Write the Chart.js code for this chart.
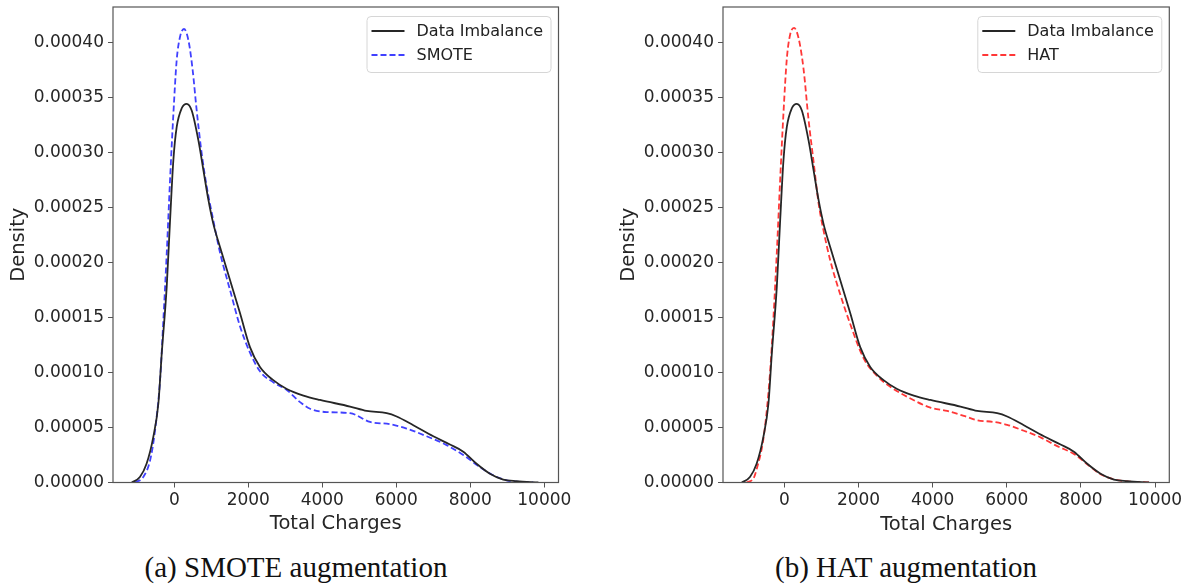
<!DOCTYPE html>
<html lang="en">
<head>
    <meta charset="UTF-8">
    <title>Total Charges density: SMOTE vs HAT augmentation</title>
    <script src="https://cdn.jsdelivr.net/npm/chart.js"></script>
    <style>
        html, body {
            margin: 0;
            padding: 0;
            background: #fff;
            overflow: hidden;
        }
        .wrap {
            position: relative;
            width: 1192px;
            height: 588px;
        }
        canvas {
            position: absolute;
            top: 0;
        }
        .caption {
            position: absolute;
            top: 550px;
            width: 600px;
            text-align: center;
            font-family: "Liberation Serif", "DejaVu Serif", serif;
            font-size: 29px;
            line-height: 34px;
            color: #111;
        }
    </style>
</head>
<body>
<div class="wrap">
    <canvas id="smoteChart" width="585" height="536" style="left:0px"></canvas>
    <canvas id="hatChart" width="582" height="537" style="left:610px"></canvas>
    <div class="caption" style="left:-4px">(a) SMOTE augmentation</div>
    <div class="caption" style="left:606px">(b) HAT augmentation</div>
</div>

<script>
    // tick labels
    const xTicks = [0, 2000, 4000, 6000, 8000, 10000];
    const yTicks = [0, 0.00005, 0.00010, 0.00015, 0.00020, 0.00025, 0.00030, 0.00035, 0.00040];

    // original (imbalanced) data density
    const imbalanceX = [-1150, -930, -750, -570, -430, -340, -205, -115, -25, 65, 200, 335, 470, 650, 785, 920, 1055, 1235,
        1505, 1775, 2045, 2315, 2675, 3040, 3490, 3940, 4750, 5200, 5740, 6010, 6460, 7000, 7450, 7810, 8170, 8530, 8890, 9250, 9840];
    const imbalanceY = [0, 0.000005, 0.000017, 0.000041, 0.000072, 0.000117, 0.000178, 0.000238, 0.000293, 0.000323, 0.000340,
        0.000344, 0.000338, 0.000311, 0.000284, 0.000257, 0.000235, 0.000214, 0.000184, 0.000154, 0.000123, 0.000105, 0.000093,
        0.000085, 0.000079, 0.000075, 0.000069, 0.000065, 0.000063, 0.000060, 0.000052, 0.000042, 0.0000345, 0.000028, 0.000017,
        0.000008, 0.0000027, 0.0000012, 0];

    // SMOTE augmented density
    const smoteX = [-1060, -840, -655, -520, -385, -295, -205, -115, -25, 65, 155, 260, 380, 495, 605, 740, 875, 1055, 1235,
        1505, 1775, 2045, 2315, 2675, 3040, 3400, 3670, 4120, 4750, 5290, 5830, 6280, 6820, 7360, 7810, 8260, 8620, 8980, 9700];
    const smoteY = [0, 0.000005, 0.000020, 0.0000475, 0.000093, 0.000148, 0.000208, 0.000275, 0.000335, 0.000384, 0.000405,
        0.000412, 0.000402, 0.000375, 0.000338, 0.000299, 0.000269, 0.000238, 0.000209, 0.000175, 0.000142, 0.000118, 0.000101,
        0.000091, 0.000084, 0.000073, 0.000067, 0.000064, 0.000063, 0.000055, 0.000053, 0.000049, 0.000042, 0.000034, 0.000025,
        0.000014, 0.0000066, 0.000002, 0];

    // HAT augmented density
    const hatX = [-1020, -830, -750, -570, -430, -340, -205, -115, -25, 65, 155, 260, 380, 515, 650, 785, 920, 1055, 1235,
        1505, 1775, 2135, 2495, 2855, 3305, 3940, 4390, 4840, 5200, 5650, 6010, 6460, 6910, 7360, 7810, 8170, 8530, 8890, 9250, 9880];
    const hatY = [0, 0.000004, 0.000012, 0.000039, 0.000082, 0.000124, 0.000209, 0.000275, 0.000336, 0.000385, 0.000407,
        0.000413, 0.000404, 0.000376, 0.000330, 0.000292, 0.000254, 0.000229, 0.000202, 0.000171, 0.000144, 0.000113, 0.000097,
        0.000087, 0.000078, 0.000068, 0.000065, 0.0000605, 0.0000566, 0.000055, 0.0000524, 0.000047, 0.000041, 0.000033, 0.000026,
        0.0000166, 0.0000075, 0.000003, 0.000001, 0];

    const toPoints = (xs, ys) => xs.map((x, i) => ({ x: x, y: ys[i] }));

    const tickFont = { family: "'DejaVu Sans', sans-serif", size: 17 };
    const titleFont = { family: "'DejaVu Sans', sans-serif", size: 19.5 };
    const spineColor = '#555';

    // full matplotlib-like box around the plot area
    const frame = {
        id: 'frame',
        afterDatasetsDraw(chart) {
            const a = chart.chartArea;
            const ctx = chart.ctx;
            ctx.save();
            ctx.strokeStyle = spineColor;
            ctx.lineWidth = 1.2;
            ctx.strokeRect(a.left, a.top, a.right - a.left, a.bottom - a.top);
            ctx.restore();
        }
    };

    // legend inside the plot, top right
    const innerLegend = {
        id: 'innerLegend',
        afterDraw(chart) {
            const a = chart.chartArea;
            const ctx = chart.ctx;
            const w = 184, h = 56;
            const left = a.right - 8 - w, top = a.top + 9;
            ctx.save();
            ctx.fillStyle = 'rgba(255,255,255,0.85)';
            ctx.strokeStyle = '#d6d6d6';
            ctx.lineWidth = 1;
            ctx.beginPath();
            ctx.roundRect(left + 0.5, top + 0.5, w, h, 4);
            ctx.fill();
            ctx.stroke();
            chart.data.datasets.forEach((ds, i) => {
                const y = top + 15 + i * 24;
                ctx.strokeStyle = ds.borderColor;
                ctx.lineWidth = ds.borderWidth;
                ctx.setLineDash(ds.borderDash || []);
                ctx.beginPath();
                ctx.moveTo(left + 5, y);
                ctx.lineTo(left + 38, y);
                ctx.stroke();
                ctx.setLineDash([]);
                ctx.fillStyle = '#222';
                ctx.font = "16px 'DejaVu Sans', sans-serif";
                ctx.textBaseline = 'middle';
                ctx.fillText(ds.label, left + 50, y + 1);
            });
            ctx.restore();
        }
    };

    function makeChart(canvasId, augLabel, augColor, augX, augY, rightPad) {
        const ctx = document.getElementById(canvasId).getContext('2d');
        return new Chart(ctx, {
            type: 'line',
            data: {
                datasets: [{
                    label: 'Data Imbalance',
                    data: toPoints(imbalanceX, imbalanceY),
                    borderColor: '#262626',
                    borderWidth: 1.8,
                    pointRadius: 0,
                    cubicInterpolationMode: 'monotone',
                    fill: false
                }, {
                    label: augLabel,
                    data: toPoints(augX, augY),
                    borderColor: augColor,
                    borderWidth: 1.8,
                    borderDash: [6, 3],
                    pointRadius: 0,
                    cubicInterpolationMode: 'monotone',
                    fill: false
                }]
            },
            options: {
                responsive: false,
                animation: false,
                devicePixelRatio: 1,
                layout: { padding: { top: 7, right: rightPad, left: 0, bottom: 0 } },
                plugins: { legend: { display: false }, tooltip: { enabled: false } },
                scales: {
                    x: {
                        type: 'linear',
                        min: -1657,
                        max: 10384,
                        afterBuildTicks: (scale) => { scale.ticks = xTicks.map(v => ({ value: v })); },
                        afterFit: (scale) => { scale.height = canvasHeight(scale) - 482.5; scale.paddingLeft = 0; scale.paddingRight = 0; },
                        ticks: { font: tickFont, color: '#262626', padding: 3, maxRotation: 0, callback: (v) => String(v) },
                        grid: { display: true, drawOnChartArea: false, drawTicks: true, tickLength: 5, color: spineColor },
                        border: { display: false },
                        title: { display: true, text: 'Total Charges', font: titleFont, color: '#262626', padding: { top: 0, bottom: 0 } }
                    },
                    y: {
                        type: 'linear',
                        min: 0,
                        max: 0.000432,
                        afterBuildTicks: (scale) => { scale.ticks = yTicks.map(v => ({ value: v })); },
                        afterFit: (scale) => { scale.width = 113; scale.paddingTop = 0; scale.paddingBottom = 0; },
                        ticks: { font: tickFont, color: '#262626', padding: 4, callback: (v) => v.toFixed(5) },
                        grid: { display: true, drawOnChartArea: false, drawTicks: true, tickLength: 5, color: spineColor },
                        border: { display: false },
                        title: { display: true, text: 'Density', font: titleFont, color: '#262626', padding: { top: 7, bottom: 0 } }
                    }
                }
            },
            plugins: [frame, innerLegend]
        });
    }

    function canvasHeight(scale) {
        return scale.chart.height;
    }

    makeChart('smoteChart', 'SMOTE', 'rgba(30, 30, 255, 0.85)', smoteX, smoteY, 26.5);
    makeChart('hatChart', 'HAT', 'rgba(255, 20, 20, 0.85)', hatX, hatY, 22.7);
</script>
</body>
</html>
